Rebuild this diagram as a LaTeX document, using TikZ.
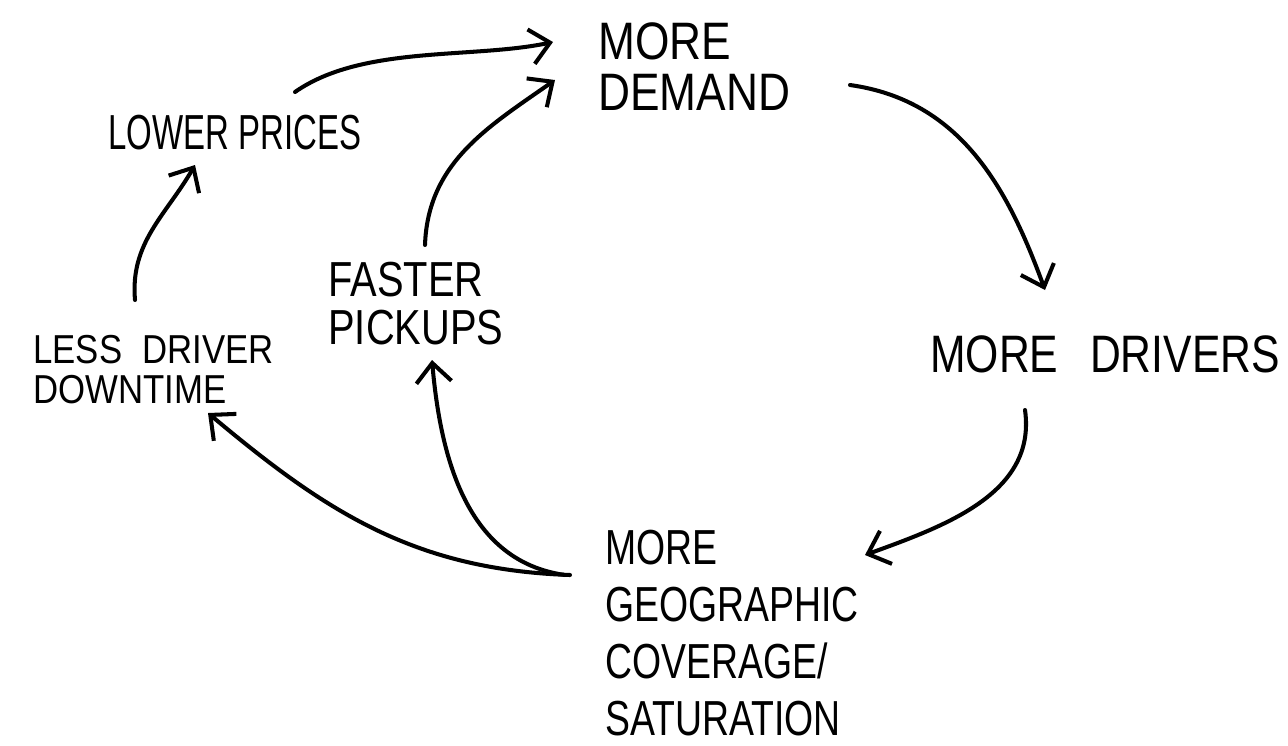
\documentclass[tikz,border=0pt]{standalone}
\usepackage{fontspec}
\setmainfont{Liberation Sans}
\newfontfamily\fwide[FakeStretch=0.81]{Liberation Sans}
\newfontfamily\fdem[FakeStretch=0.84]{Liberation Sans}
\newfontfamily\fmid[FakeStretch=0.76]{Liberation Sans}
\newfontfamily\fnar[FakeStretch=0.67]{Liberation Sans}
\newfontfamily\fxw[FakeStretch=0.86]{Liberation Sans}
\usetikzlibrary{arrows.meta}
\tikzset{
  lbl/.style={anchor=north west, inner sep=0pt, align=left, text=black},
  arr/.style={line width=2.3pt, line cap=round, draw=black,
    -{Straight Barb[length=11pt,width=20pt,line width=2.3pt]}}
}
\begin{document}
\begin{tikzpicture}[x=0.02cm,y=0.02cm]
\useasboundingbox (0,0) rectangle (1288,-745);
\node[lbl,font=\fdem\fontsize{30}{29.5}\selectfont] (dem) at (598,-22) {MORE\\DEMAND};
\node[lbl,font=\fwide\fontsize{30}{32}\selectfont] (drv) at (930,-335) {MORE\hspace{0.6em}DRIVERS};
\node[lbl,font=\fmid\fontsize{28}{32.4}\selectfont] (geo) at (605,-530) {MORE\\GEOGRAPHIC\\COVERAGE/\\SATURATION};
\node[lbl,font=\fwide\fontsize{28}{27.3}\selectfont] (fp) at (328,-262) {FASTER\\PICKUPS};
\node[lbl,font=\fxw\fontsize{23}{23}\selectfont] (ldd) at (33,-335) {LESS\hspace{0.5em}DRIVER\\DOWNTIME};
\node[lbl,font=\fnar\fontsize{28}{30}\selectfont] (lp) at (108,-115) {LOWER PRICES};
% connectors
\draw[arr] ([shift={(187,23)}]lp.north west) to[out=35,in=192,looseness=0.8] ([shift={(-45,-20)}]dem.north west);
\draw[arr] ([shift={(97,17)}]fp.north west) to[out=88,in=215] ([shift={(-43,-58)}]dem.north west);
\draw[arr] ([shift={(252,-63)}]dem.north west) to[out=-8,in=110] ([shift={(115,45)}]drv.north west);
\draw[arr] ([shift={(95,-75)}]drv.north west) to[out=-82,in=20] ([shift={(260,-25)}]geo.north west);
\draw[arr] ([shift={(-40,-45)}]geo.north west) to[out=172,in=-85] ([shift={(104,-98)}]fp.north west);
\draw[arr] ([shift={(-35,-45)}]geo.north west) to[out=178,in=-40] ([shift={(175,-78)}]ldd.north west);
\draw[arr] ([shift={(102,35)}]ldd.north west) to[out=95,in=-120] ([shift={(87,-50)}]lp.north west);
\end{tikzpicture}
\end{document}
